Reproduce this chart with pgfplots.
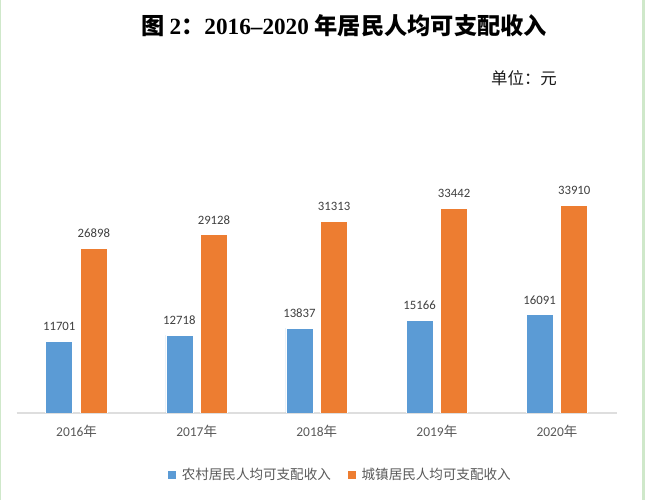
\documentclass[border=0pt]{standalone}
\usepackage{pgfplots}
\pgfplotsset{compat=1.18}
\usepackage{fontspec}
\setmainfont{Carlito}
\newfontfamily\cjk{Noto Sans CJK SC}
\newfontfamily\tserif{Liberation Serif}
\definecolor{cblue}{HTML}{5B9BD5}
\definecolor{corange}{HTML}{ED7D31}
\definecolor{tickgray}{HTML}{595959}
\definecolor{labgray}{HTML}{404040}
\definecolor{edgegreen}{HTML}{CFE8CA}
\begin{document}
\begin{tikzpicture}
\fill[white] (0,0) rectangle (645bp,500bp);
\fill[edgegreen] (0,0) rectangle (1.4bp,500bp);
\fill[edgegreen] (641.8bp,0) rectangle (645bp,500bp);
\node[font=\fontsize{23.3}{27}\selectfont, anchor=center] at (344bp,474bp)
  {{\cjk\bfseries 图 }{\tserif\bfseries 2}{\cjk\bfseries ：}{\tserif\bfseries 2016–2020 }{\cjk\bfseries 年居民人均可支配收入}};
\node[font=\fontsize{16.5}{19}\selectfont\cjk, text=black!90, anchor=center] at (524bp,422bp) {单位：元};
\begin{axis}[
  at={(16.5bp,87bp)}, anchor=south west,
  scale only axis, width=600.5bp, height=245bp,
  ybar=7.6bp, bar width=27bp,
  xmin=-0.5, xmax=4.5, ymin=0, ymax=40000,
  axis x line=bottom, axis y line=none,
  x axis line style={-, draw=black!13, line width=1.5bp},
  xtick={0,1,2,3,4},
  xticklabels={2016{\cjk 年},2017{\cjk 年},2018{\cjk 年},2019{\cjk 年},2020{\cjk 年}},
  major tick length=0pt,
  xticklabel style={font=\fontsize{13.5}{16}\selectfont, text=tickgray, anchor=base, yshift=-23bp},
  point meta=explicit symbolic,
  nodes near coords,
  every node near coord/.append style={font=\fontsize{12.8}{14}\selectfont, text=labgray, anchor=south, inner sep=0pt, yshift=10bp},
  legend columns=2,
  legend style={draw=none, fill=none, at={(0.5374,0)}, anchor=center, yshift=-62bp,
    font=\fontsize{13.6}{16}\selectfont\cjk, text=tickgray,
    nodes={inner sep=0pt},
    /tikz/every odd column/.append style={column sep=6bp},
    /tikz/every even column/.append style={column sep=16.7bp}},
]
\addplot[fill=cblue, draw=white, line width=0.6bp,
  legend image code/.code={\fill[cblue] (0bp,-3.75bp) rectangle (7.5bp,3.75bp);}]
  coordinates {(0,11701) [11701] (1,12718) [12718] (2,13837) [13837] (3,15166) [15166] (4,16091) [16091]};
\addlegendentry{农村居民人均可支配收入}
\addplot[fill=corange, draw=white, line width=0.6bp,
  legend image code/.code={\fill[corange] (0bp,-3.75bp) rectangle (7.5bp,3.75bp);}]
  coordinates {(0,26898) [26898] (1,29128) [29128] (2,31313) [31313] (3,33442) [33442] (4,33910) [33910]};
\addlegendentry{城镇居民人均可支配收入}
\end{axis}
\end{tikzpicture}
\end{document}
